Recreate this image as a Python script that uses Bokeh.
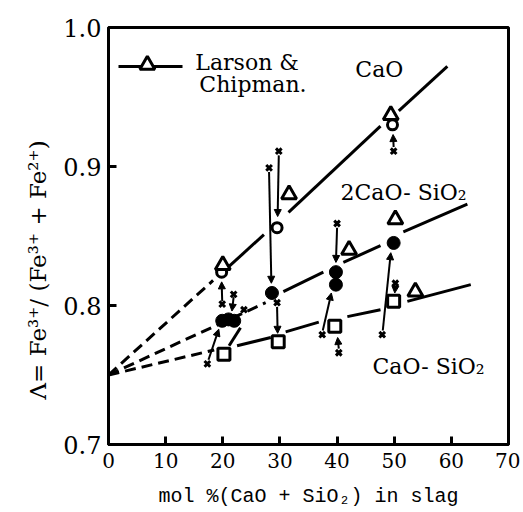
from bokeh.plotting import figure
from bokeh.models import Range1d, FixedTicker, Title, Arrow, NormalHead, ColumnDataSource
from bokeh.core.properties import value
from bokeh.embed import file_html
from bokeh.resources import INLINE

# ---------------- data ----------------
x_ticks = [0, 10, 20, 30, 40, 50, 60, 70]
y_ticks = [0.7, 0.8, 0.9, 1.0]
y_tick_labels = ["0.7", "0.8", "0.9", "1.0"]

# Larson & Chipman (open triangles)
tri_x = [20.0, 31.6, 42.1, 49.4, 50.2, 53.7]
tri_y = [0.829, 0.880, 0.840, 0.937, 0.862, 0.810]

# CaO (open circles)
ocirc_x = [19.8, 29.5, 49.7]
ocirc_y = [0.824, 0.856, 0.930]

# 2CaO-SiO2 (filled circles)
fcirc_x = [19.9, 21.0, 22.0, 28.6, 39.8, 39.8, 49.9]
fcirc_y = [0.789, 0.790, 0.789, 0.809, 0.824, 0.815, 0.845]

# CaO-SiO2 (open squares)
sq_x = [20.2, 29.7, 39.6, 49.9]
sq_y = [0.765, 0.774, 0.785, 0.803]

# initial points (crosses)
cross_x = [19.9, 21.9, 23.7, 17.3, 29.8, 28.1, 29.5, 40.0, 37.4, 40.3, 49.9, 50.2, 47.9]
cross_y = [0.801, 0.808, 0.797, 0.758, 0.911, 0.899, 0.802, 0.859, 0.779, 0.766, 0.911, 0.816, 0.779]

# arrows: from crosses to final points
arr_x0 = [19.9, 21.9, 17.5, 28.1, 29.8, 29.5, 40.0, 37.5, 40.3, 48.0, 49.9, 50.2]
arr_y0 = [0.803, 0.806, 0.761, 0.896, 0.908, 0.799, 0.856, 0.782, 0.769, 0.782, 0.914, 0.814]
arr_x1 = [19.8, 21.6, 19.3, 28.5, 29.6, 29.6, 39.8, 39.0, 40.1, 49.4, 49.8, 50.1]
arr_y1 = [0.817, 0.796, 0.783, 0.816, 0.864, 0.780, 0.831, 0.809, 0.777, 0.838, 0.923, 0.809]

# headless connector near x = 22
conn_x = [23.1, 21.1]
conn_y = [0.784, 0.771]

# regression lines: dashed extrapolations
dash_xs = [[0, 18.3], [0, 27.5], [0, 18.5]]
dash_ys = [[0.750, 0.818], [0.750, 0.802], [0.750, 0.768]]

# regression lines: solid pieces
solid_xs = [[20.8, 27.2], [31.5, 47.6], [50.8, 59.3],
            [30.6, 37.6], [41.1, 47.6], [51.6, 62.8],
            [22.5, 28.4], [31.0, 36.8], [41.8, 47.6], [52.3, 63.4]]
solid_ys = [[0.827, 0.851], [0.867, 0.929], [0.940, 0.972],
            [0.810, 0.824], [0.831, 0.843], [0.853, 0.873],
            [0.771, 0.777], [0.781, 0.788], [0.792, 0.797], [0.803, 0.815]]

# labels
lab_text = ["CaO", "2CaO- SiO\u2082", "CaO- SiO\u2082", "Larson &", "Chipman."]
lab_x = [43.2, 40.6, 46.2, 15.2, 15.9]
lab_y = [0.970, 0.881, 0.756, 0.975, 0.959]

# legend sample
leg_line_x = [1.75, 12.95]
leg_line_y = [0.972, 0.972]
leg_tri_x = [6.8]
leg_tri_y = [0.973]

# ---------------- figure ----------------
p = figure(width=520, height=510, x_range=Range1d(0, 70), y_range=Range1d(0.7, 1.0),
           output_backend="svg", toolbar_location=None,
           min_border_left=108, min_border_right=12, min_border_top=27, min_border_bottom=65)
p.background_fill_color = "white"
p.border_fill_color = "white"
p.xgrid.visible = False
p.ygrid.visible = False
p.outline_line_color = "black"
p.outline_line_width = 3
p.outline_line_alpha = 1

serif = "DejaVu Serif"

for ax in (p.xaxis[0], p.yaxis[0]):
    ax.axis_line_width = 3
    ax.axis_line_color = "black"
    ax.major_tick_in = 8
    ax.major_tick_out = 0
    ax.minor_tick_in = 0
    ax.minor_tick_out = 0
    ax.major_tick_line_width = 3
    ax.major_tick_line_color = "black"
    ax.major_label_text_font = serif
    ax.major_label_text_color = "black"

p.xaxis.ticker = FixedTicker(ticks=x_ticks)
p.xaxis.major_label_text_font_size = "20px"
p.xaxis.major_label_standoff = 8
p.xaxis.axis_label = "mol %(CaO + SiO\u2082) in slag"
p.xaxis.axis_label_text_font = "Liberation Mono"
p.xaxis.axis_label_text_font_size = "20px"
p.xaxis.axis_label_text_font_style = "normal"
p.xaxis.axis_label_text_color = "black"
p.xaxis.axis_label_standoff = 14

p.yaxis.ticker = FixedTicker(ticks=y_ticks)
p.yaxis.major_label_overrides = {t: l for t, l in zip(y_ticks, y_tick_labels)}
p.yaxis.major_label_text_font_size = "24px"
p.yaxis.major_label_standoff = 7

ylab = Title(text="\u039b= Fe\u00b3\u207a/ (Fe\u00b3\u207a + Fe\u00b2\u207a)", align="left", offset=45,
             text_font=serif, text_font_size="23px", text_font_style="normal",
             text_color="black", standoff=20)
p.add_layout(ylab, "left")

lw = 3
# lines
p.multi_line(xs=dash_xs, ys=dash_ys, line_color="black", line_width=lw, line_dash="11 6")
p.multi_line(xs=solid_xs, ys=solid_ys, line_color="black", line_width=lw)
p.line(conn_x, conn_y, line_color="black", line_width=lw)

# arrows
src = ColumnDataSource(dict(x0=arr_x0, y0=arr_y0, x1=arr_x1, y1=arr_y1))
p.add_layout(Arrow(source=src, x_start="x0", y_start="y0", x_end="x1", y_end="y1",
                   line_color="black", line_width=2,
                   end=NormalHead(size=7, fill_color="black", line_color="black", line_width=1)))

# markers
p.scatter(cross_x, cross_y, marker="x", size=8, line_color="black", line_width=3)
p.scatter(sq_x, sq_y, marker="square", size=12, fill_color="white", line_color="black", line_width=3)
p.scatter(fcirc_x, fcirc_y, marker="circle", size=13, fill_color="black", line_color="black")
p.scatter(ocirc_x, ocirc_y, marker="circle", size=10, fill_color="white", line_color="black", line_width=3)
p.scatter(tri_x, tri_y, marker="triangle", size=15, fill_color="white", line_color="black", line_width=3)

# legend sample
p.line(leg_line_x, leg_line_y, line_color="black", line_width=lw)
p.scatter(leg_tri_x, leg_tri_y, marker="triangle", size=15, fill_color="white", line_color="black", line_width=3)

# labels
p.text(x=lab_x, y=lab_y, text=lab_text, text_font=value(serif), text_font_size="22px",
       text_baseline="middle", text_align="left", text_color="black")

open("out.html", "w").write(file_html(p, INLINE))
